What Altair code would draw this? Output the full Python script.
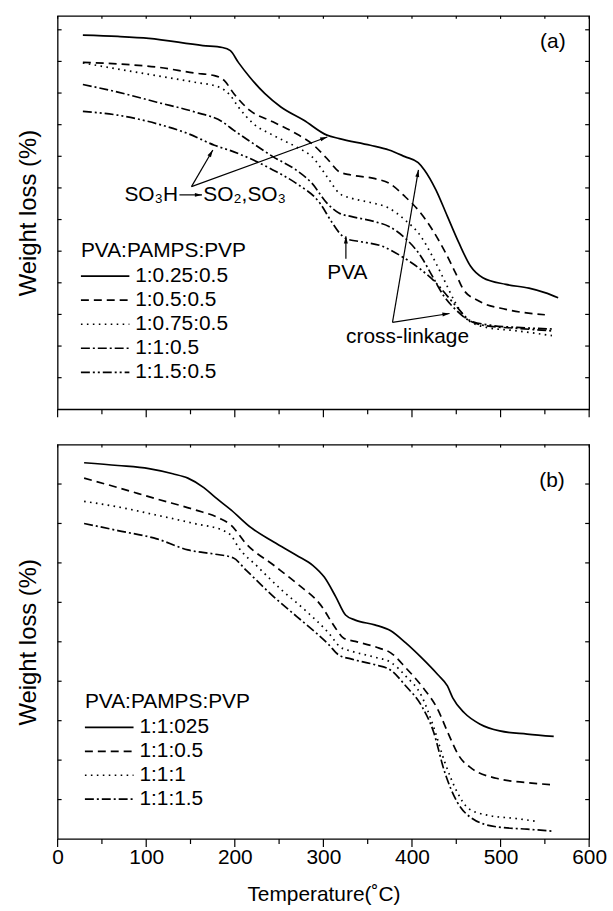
import math
import altair as alt
import pandas as pd

FONT = "Liberation Sans"
FS = 21
YFS = 24
W = 535
HA = 396
HB = 397
YMAX_A = 124.4
YMAX_B = 100.0
XMAX = 600

# ---------------- data: panel (a) ----------------
a_title = "PVA:PAMPS:PVP"
a_labels = ["1:0.25:0.5", "1:0.5:0.5", "1:0.75:0.5", "1:1:0.5", "1:1.5:0.5"]
a1_t = [28.5, 68, 103, 164, 186, 195, 204, 217, 234, 252, 278, 304, 318, 353, 374, 392, 407, 414, 427, 440, 453, 466, 480, 506, 532, 550, 565]
a1_w = [118.3, 117.9, 117.3, 115.0, 114.4, 113.4, 109.7, 105.0, 99.8, 95.6, 91.4, 86.7, 85.6, 83.5, 82.0, 79.9, 78.0, 75.7, 69.4, 61.0, 52.6, 45.3, 41.6, 39.5, 38.3, 36.9, 35.3]
a2_t = [28.5, 68, 112, 155, 177, 188, 199, 217, 243, 269, 287, 304, 318, 331, 357, 374, 392, 410, 423, 436, 449, 458, 475, 506, 550]
a2_w = [109.7, 109.2, 108.2, 106.3, 105.5, 104.0, 99.8, 94.5, 90.9, 87.2, 84.0, 79.3, 75.1, 74.1, 73.0, 71.5, 67.3, 62.0, 56.8, 50.5, 43.2, 37.9, 34.3, 31.6, 29.9]
a3_t = [28.5, 68, 112, 155, 182, 195, 204, 221, 243, 269, 287, 304, 318, 331, 353, 374, 392, 410, 423, 436, 449, 462, 484, 519, 558]
a3_w = [109.5, 107.6, 105.5, 103.4, 101.9, 99.2, 95.6, 90.3, 86.7, 83.0, 79.9, 73.6, 68.3, 66.8, 65.4, 63.6, 59.9, 54.7, 48.4, 41.1, 33.7, 28.5, 25.9, 24.8, 23.3]
a4_t = [28.5, 68, 112, 155, 186, 199, 221, 243, 269, 287, 304, 318, 331, 357, 374, 392, 410, 423, 436, 449, 462, 484, 519, 558]
a4_w = [102.7, 100.3, 97.1, 94.0, 90.9, 88.2, 84.0, 79.9, 75.7, 71.5, 65.2, 62.0, 61.0, 59.4, 57.8, 54.2, 48.4, 42.1, 35.8, 31.6, 28.5, 26.4, 25.6, 24.8]
a5_t = [28.5, 68, 112, 147, 177, 199, 221, 243, 269, 296, 309, 318, 326, 340, 366, 388, 410, 427, 440, 453, 466, 488, 519, 558]
a5_w = [94.2, 93.0, 90.3, 87.2, 83.5, 81.4, 78.8, 75.7, 71.5, 65.2, 59.4, 55.8, 53.9, 53.1, 51.6, 48.4, 44.2, 40.0, 35.8, 31.6, 28.0, 26.6, 25.9, 25.4]

# ---------------- data: panel (b) ----------------
b_title = "PVA:PAMPS:PVP"
b_labels = ["1:1:025", "1:1:0.5", "1:1:1", "1:1:1.5"]
b1_t = [29.9, 68, 103, 130, 147, 165, 178, 196, 218, 244, 270, 288, 301, 314, 325, 336, 358, 376, 393, 411, 429, 440, 446, 459, 477, 499, 530, 560]
b1_w = [95.4, 94.7, 93.9, 92.6, 91.5, 89.1, 86.6, 83.4, 79.0, 75.3, 71.9, 69.4, 66.4, 61.4, 56.8, 55.5, 54.3, 52.8, 49.7, 45.9, 41.7, 38.8, 35.8, 32.0, 29.1, 27.4, 26.6, 26.0]
b2_t = [29.9, 68, 112, 156, 182, 196, 213, 244, 270, 297, 314, 323, 336, 363, 376, 393, 411, 429, 442, 453, 468, 495, 530, 556]
b2_w = [91.5, 89.1, 86.2, 83.4, 81.4, 79.5, 74.8, 69.4, 64.8, 59.3, 53.4, 50.9, 50.1, 48.4, 47.2, 43.4, 38.8, 32.9, 26.2, 21.1, 17.8, 15.4, 14.3, 13.8]
b3_t = [29.9, 68, 112, 156, 187, 196, 204, 226, 253, 279, 306, 319, 332, 358, 376, 393, 411, 424, 437, 451, 464, 486, 517, 543]
b3_w = [85.6, 84.2, 82.1, 79.9, 78.2, 76.9, 74.0, 69.0, 63.1, 58.1, 52.2, 48.7, 47.6, 46.1, 44.8, 41.3, 36.2, 28.7, 19.5, 11.9, 7.7, 6.0, 5.2, 4.4]
b4_t = [29.9, 68, 112, 147, 178, 198, 213, 244, 270, 292, 306, 317, 332, 358, 376, 393, 411, 424, 437, 451, 468, 495, 530, 558]
b4_w = [80.0, 78.2, 76.1, 73.3, 72.2, 71.3, 68.1, 61.4, 56.4, 52.2, 49.3, 46.7, 45.6, 44.2, 42.8, 38.8, 33.7, 27.4, 16.9, 9.4, 5.2, 3.1, 2.5, 2.0]

# ticks
x_major = [0, 100, 200, 300, 400, 500, 600]
x_minor = [50, 150, 250, 350, 450, 550]
ya_ticks = [10, 20, 30, 40, 50, 60, 70, 80, 90, 100, 110, 120]
yb_ticks = [10, 20, 30, 40, 50, 60, 70, 80, 90]

# annotation texts
a_tag = "(a)"
so3h_txt = "SO\u2083H"
so2_txt = "SO\u2082,SO\u2083"
pva_txt = "PVA"
cross_txt = "cross-linkage"
b_tag = "(b)"

DASHES = [None, [8, 5], [1.6, 4.4], [9, 3, 2, 3], [9, 3, 2, 3, 2, 3]]
B_DASHES = [None, [8, 5], [1.6, 4.4], [9, 3, 2, 3]]

ARROW_PATH = "M0,0L1,3.6L-1,3.6Z"
LW = 1.7


def xenc(field, panel):
    if panel == "a":
        ax = None
    else:
        ax = alt.Axis(values=x_major, format="d", labels=True, ticks=False, domain=False,
                      grid=False, labelFont=FONT, labelFontSize=FS, labelColor="black",
                      labelPadding=8, labelFlush=False, title="Temperature(\u02daC)",
                      titleFont=FONT, titleFontSize=FS, titleFontWeight="normal",
                      titleColor="black", titlePadding=16)
    return alt.X(field, type="quantitative",
                 scale=alt.Scale(domain=[0, XMAX], nice=False, zero=False), axis=ax)


def yenc(field, panel):
    ymax = YMAX_A if panel == "a" else YMAX_B
    ax = alt.Axis(labels=False, ticks=False, domain=False, grid=False,
                  title="Weight loss (%)", titleFont=FONT, titleFontSize=YFS,
                  titleFontWeight="normal", titleColor="black", titlePadding=17)
    return alt.Y(field, type="quantitative",
                 scale=alt.Scale(domain=[0, ymax], nice=False, zero=False), axis=ax)


def line_layer(t, w, dash, panel):
    df = pd.DataFrame({"T": t, "W": w})
    kw = dict(color="black", strokeWidth=LW, interpolate="monotone")
    if dash:
        kw["strokeDash"] = dash
    return alt.Chart(df).mark_line(**kw).encode(x=xenc("T", panel), y=yenc("W", panel))


def tick_layers(panel, yticks, h):
    maj = pd.DataFrame({"T": x_major})
    mnr = pd.DataFrame({"T": x_minor})
    allx = pd.DataFrame({"T": sorted(x_major + x_minor)})
    yt = pd.DataFrame({"W": yticks})
    rk = dict(color="black", strokeWidth=1.2)
    return [
        alt.Chart(maj).mark_rule(**rk).encode(x=xenc("T", panel), y=alt.value(h), y2=alt.value(h + 8)),
        alt.Chart(mnr).mark_rule(**rk).encode(x=xenc("T", panel), y=alt.value(h), y2=alt.value(h + 5)),
        alt.Chart(allx).mark_rule(**rk).encode(x=xenc("T", panel), y=alt.value(0), y2=alt.value(3)),
        alt.Chart(yt).mark_rule(**rk).encode(y=yenc("W", panel), x=alt.value(0), x2=alt.value(4)),
        alt.Chart(yt).mark_rule(**rk).encode(y=yenc("W", panel), x=alt.value(W - 4), x2=alt.value(W)),
    ]


def arrow_layers(arrows, panel, ymax, h):
    rows = []
    for (x1, y1, x2, y2) in arrows:
        dxp = (x2 - x1) * W / XMAX
        dyp = -(y2 - y1) * h / ymax
        ang = math.degrees(math.atan2(dxp, -dyp)) % 360
        rows.append({"x1": x1, "y1": y1, "x2": x2, "y2": y2, "ang": ang})
    df = pd.DataFrame(rows)
    rule = alt.Chart(df).mark_rule(color="black", strokeWidth=1.2).encode(
        x=xenc("x1", panel), y=yenc("y1", panel), x2="x2:Q", y2="y2:Q")
    head = alt.Chart(df).mark_point(shape=ARROW_PATH, filled=True, color="black",
                                    size=16, opacity=1, strokeWidth=0).encode(
        x=xenc("x2", panel), y=yenc("y2", panel), angle=alt.Angle("ang:Q", scale=None))
    return [rule, head]


def text_layer(x, y, txt, panel, align="left"):
    df = pd.DataFrame({"x": [x], "y": [y], "t": [txt]})
    return alt.Chart(df).mark_text(font=FONT, fontSize=FS, color="black", align=align,
                                   baseline="middle").encode(
        x=xenc("x", panel), y=yenc("y", panel), text="t:N")


def legend_layers(title, labels, dashes, panel, x0, x1, xt, ytitle, y0, step):
    layers = [text_layer(x0, ytitle, title, panel)]
    for i, (lab, dash) in enumerate(zip(labels, dashes)):
        yy = y0 - i * step
        df = pd.DataFrame({"x": [x0], "x2": [x1], "y": [yy]})
        kw = dict(color="black", strokeWidth=LW)
        if dash:
            kw["strokeDash"] = dash
        layers.append(alt.Chart(df).mark_rule(**kw).encode(
            x=xenc("x", panel), x2="x2:Q", y=yenc("y", panel)))
        layers.append(text_layer(xt, yy, lab, panel))
    return layers


# ---------- panel (a) ----------
a_series = [(a1_t, a1_w), (a2_t, a2_w), (a3_t, a3_w), (a4_t, a4_w), (a5_t, a5_w)]
layers_a = [line_layer(t, w, d, "a") for (t, w), d in zip(a_series, DASHES)]
layers_a += tick_layers("a", ya_ticks, HA)
layers_a += arrow_layers([
    (151.1, 70.4, 175.2, 82.0),
    (151.1, 70.4, 304.4, 86.1),
    (137.5, 67.8, 163.0, 67.8),
    (325.4, 47.6, 325.4, 54.7),
    (378.0, 27.5, 407.3, 75.7),
    (378.0, 27.5, 442.4, 30.3),
], "a", YMAX_A, HA)
layers_a += [
    text_layer(559, 116.0, a_tag, "a", "center"),
    text_layer(136.0, 67.8, so3h_txt, "a", "right"),
    text_layer(164.5, 67.8, so2_txt, "a", "left"),
    text_layer(327, 43.2, pva_txt, "a", "center"),
    text_layer(395, 22.7, cross_txt, "a", "center"),
]
layers_a += legend_layers(a_title, a_labels, DASHES, "a", 26.3, 81.0, 87.6, 50.0, 42.1, 7.6)
panel_a = alt.layer(*layers_a).properties(width=W, height=HA)

# ---------- panel (b) ----------
b_series = [(b1_t, b1_w), (b2_t, b2_w), (b3_t, b3_w), (b4_t, b4_w)]
layers_b = [line_layer(t, w, d, "b") for (t, w), d in zip(b_series, B_DASHES)]
layers_b += tick_layers("b", yb_ticks, HB)
layers_b += [text_layer(558, 90.8, b_tag, "b", "center")]
layers_b += legend_layers(b_title, b_labels, B_DASHES, "b", 30.8, 85.7, 92.3, 34.6, 28.3, 6.07)
panel_b = alt.layer(*layers_b).properties(width=W, height=HB)

chart = alt.vconcat(panel_a, panel_b, spacing=35.5, bounds="flush").configure_view(
    stroke="black", strokeWidth=1.3
).properties(
    padding={"left": 16, "top": 11, "right": 5, "bottom": 5},
    background="white",
)

chart.save("out.html", embed_options={"renderer": "svg", "actions": False})
